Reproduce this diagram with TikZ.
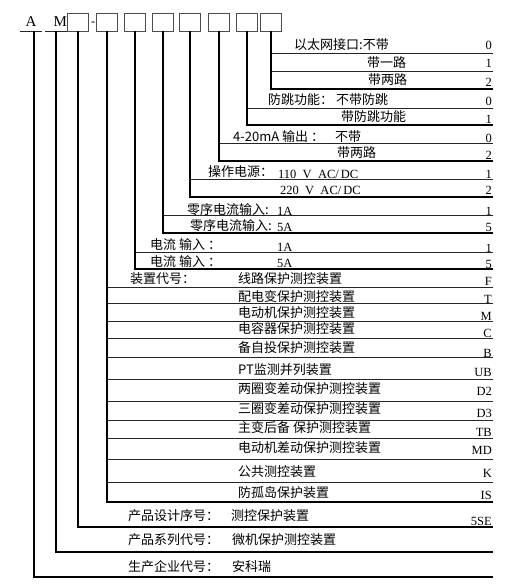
\documentclass[tikz,border=0pt]{standalone}
\usepackage{fontspec}
\setmainfont{Liberation Serif}
\newfontfamily\cjk{Noto Sans CJK SC}
\begin{document}
\begin{tikzpicture}[x=1pt,y=-1pt,
  slot/.style={draw=black!70,line width=0.8pt,minimum width=21pt,minimum height=18pt,inner sep=0pt},
  code/.style={minimum width=22pt,minimum height=18pt,inner sep=0pt,font=\fontsize{15}{17}\selectfont},
  grp/.style={line width=1.8pt},
  opt/.style={line width=0.9pt,black!85},
  lbl/.style={anchor=west,inner sep=0pt,font=\cjk\fontsize{13}{15}\selectfont},
  lat/.style={anchor=west,inner sep=0pt,font=\fontsize{12.5}{14}\selectfont},
  val/.style={anchor=east,inner sep=0pt,font=\fontsize{12.5}{14}\selectfont}]
  \useasboundingbox (0,0) rectangle (528,588);
  % code letters and empty slots
  \node[code] (A) at (31,22) {A};
  \node[code,text width=22pt,align=right] (M) at (56,22) {M};
  \draw[opt] (A.south west) -- (A.south east);
  \draw[opt] (M.south west) -- (M.south east);
  \node[slot] (b1) at (78,22) {};
  \node[lat] (hy) at (91,24) {-};
  \node[slot] (b2) at (107,22) {};
  \node[slot] (b3) at (135,22) {};
  \node[slot] (b4) at (163,22) {};
  \node[slot] (b5) at (190,22) {};
  \node[slot] (b6) at (219,22) {};
  \node[slot] (b7) at (247,22) {};
  \node[slot] (b8) at (271,22) {};
  % right ends of the rows
  \coordinate (r1) at (493,53);  \coordinate (r2) at (493,71);  \coordinate (r3) at (493,89);
  \coordinate (r4) at (493,108); \coordinate (r5) at (493,125);
  \coordinate (r6) at (493,143); \coordinate (r7) at (493,161);
  \coordinate (r8) at (493,179); \coordinate (r9) at (493,197);
  \coordinate (r10) at (493,215); \coordinate (r11) at (493,233);
  \coordinate (r12) at (493,252); \coordinate (r13) at (493,269);
  \coordinate (r14) at (493,287); \coordinate (r15) at (493,303); \coordinate (r16) at (493,321);
  \coordinate (r17) at (493,338); \coordinate (r18) at (493,357); \coordinate (r19) at (493,379);
  \coordinate (r20) at (493,401); \coordinate (r21) at (493,420); \coordinate (r22) at (493,438);
  \coordinate (r23) at (493,459); \coordinate (r24) at (493,482); \coordinate (r25) at (493,502);
  \coordinate (r26) at (493,527); \coordinate (r27) at (493,552); \coordinate (r28) at (493,577);
  % option lines
  \draw[opt] (b8.south |- r1) -- (r1);
  \draw[opt] (b8.south |- r2) -- (r2);
  \draw[opt] (b7.south |- r4) -- (r4);
  \draw[opt] (b6.south |- r6) -- (r6);
  \draw[opt] (b5.south |- r8) -- (r8);
  \draw[opt] (b4.south |- r10) -- (r10);
  \draw[opt] (b3.south |- r12) -- (r12);
  \draw[opt] (b2.south |- r14) -- (r14);
  \draw[opt] (b2.south |- r15) -- (r15);
  \draw[opt] (b2.south |- r16) -- (r16);
  \draw[opt] (b2.south |- r17) -- (r17);
  \draw[opt] (b2.south |- r18) -- (r18);
  \draw[opt] (b2.south |- r19) -- (r19);
  \draw[opt] (b2.south |- r20) -- (r20);
  \draw[opt] (b2.south |- r21) -- (r21);
  \draw[opt] (b2.south |- r22) -- (r22);
  \draw[opt] (b2.south |- r23) -- (r23);
  \draw[opt] (b2.south |- r24) -- (r24);
  % group brackets
  \draw[grp] (b8.south) |- (r3);
  \draw[grp] (b7.south) |- (r5);
  \draw[grp] (b6.south) |- (r7);
  \draw[grp] (b5.south) |- (r9);
  \draw[grp] (b4.south) |- (r11);
  \draw[grp] (b3.south) |- (r13);
  \draw[grp] (b2.south) |- (r25);
  \draw[grp] (b1.south) |- (r26);
  \draw[grp] ([xshift=3pt]A.south) |- (r28);
  \draw[grp] (M.south) |- (r27);
  % Ethernet
  \node[lbl] (l1) at (294,45) {以太网接口:不带};
  \node[val] (v1) at (492,45) {0};
  \node[lbl] (l2) at (367,63) {带一路};
  \node[val] (v2) at (492,63) {1};
  \node[lbl] (l3) at (368,80) {带两路};
  \node[val] (v3) at (492,82) {2};
  % anti-jump
  \node[lbl] (l4) at (268,100) {防跳功能：\ 不带防跳};
  \node[val] (v4) at (492,101) {0};
  \node[lbl] (l5) at (341,117) {带防跳功能};
  \node[val] (v5) at (492,119) {1};
  % 4-20mA
  \node[lbl] (l6) at (233,137) {4-20mA 输出 ：};
  \node[lbl] (o6) at (335,137) {不带};
  \node[val] (v6) at (492,138) {0};
  \node[lbl] (l7) at (337,153) {带两路};
  \node[val] (v7) at (492,155) {2};
  % supply
  \node[lbl] (l8) at (208,172) {操作电源：};
  \node[lat] (o8) at (278,174) {110\ \ V\ \ AC/\,DC};
  \node[val] (v8) at (492,174) {1};
  \node[lat] (o9) at (280,190) {220\ \ V\ \ AC/\,DC};
  \node[val] (v9) at (492,190) {2};
  % zero sequence
  \node[lbl] (l10) at (187,210) {零序电流输入:};
  \node[lat] (o10) at (277,211) {1A};
  \node[val] (v10) at (492,211) {1};
  \node[lbl] (l11) at (190,226) {零序电流输入:};
  \node[lat] (o11) at (277,227) {5A};
  \node[val] (v11) at (492,227) {5};
  % current
  \node[lbl] (l12) at (150,245) {电流 输入 ：};
  \node[lat] (o12) at (277,247) {1A};
  \node[val] (v12) at (492,248) {1};
  \node[lbl] (l13) at (150,262) {电流 输入 ：};
  \node[lat] (o13) at (277,263) {5A};
  \node[val] (v13) at (492,264) {5};
  % device code
  \node[lbl] (l14) at (130,279) {装置代号：};
  \node[lbl] (o14) at (238,279) {线路保护测控装置};      \node[val] (v14) at (492,281) {F};
  \node[lbl] (o15) at (238,297) {配电变保护测控装置};    \node[val] (v15) at (492,299) {T};
  \node[lbl] (o16) at (238,313) {电动机保护测控装置};    \node[val] (v16) at (492,316) {M};
  \node[lbl] (o17) at (238,329) {电容器保护测控装置};    \node[val] (v17) at (492,333) {C};
  \node[lbl] (o18) at (238,348) {备自投保护测控装置};    \node[val] (v18) at (492,353) {B};
  \node[lbl] (o19) at (238,370) {PT监测并列装置};        \node[val] (v19) at (492,372) {UB};
  \node[lbl] (o20) at (238,389) {两圈变差动保护测控装置}; \node[val] (v20) at (492,391) {D2};
  \node[lbl] (o21) at (238,409) {三圈变差动保护测控装置}; \node[val] (v21) at (492,413) {D3};
  \node[lbl] (o22) at (238,428) {主变后备 保护测控装置};  \node[val] (v22) at (492,432) {TB};
  \node[lbl] (o23) at (238,448) {电动机差动保护测控装置}; \node[val] (v23) at (492,450) {MD};
  \node[lbl] (o24) at (238,472) {公共测控装置};          \node[val] (v24) at (492,473) {K};
  \node[lbl] (o25) at (238,493) {防孤岛保护装置};        \node[val] (v25) at (492,495) {IS};
  % design, series, maker
  \node[lbl] (l26) at (128,516) {产品设计序号：};
  \node[lbl] (o26) at (231,516) {测控保护装置};
  \node[val] (v26) at (492,521) {5SE};
  \node[lbl] (l27) at (128,540) {产品系列代号：};
  \node[lbl] (o27) at (232,540) {微机保护测控装置};
  \node[lbl] (l28) at (128,567) {生产企业代号：};
  \node[lbl] (o28) at (232,567) {安科瑞};
\end{tikzpicture}
\end{document}
